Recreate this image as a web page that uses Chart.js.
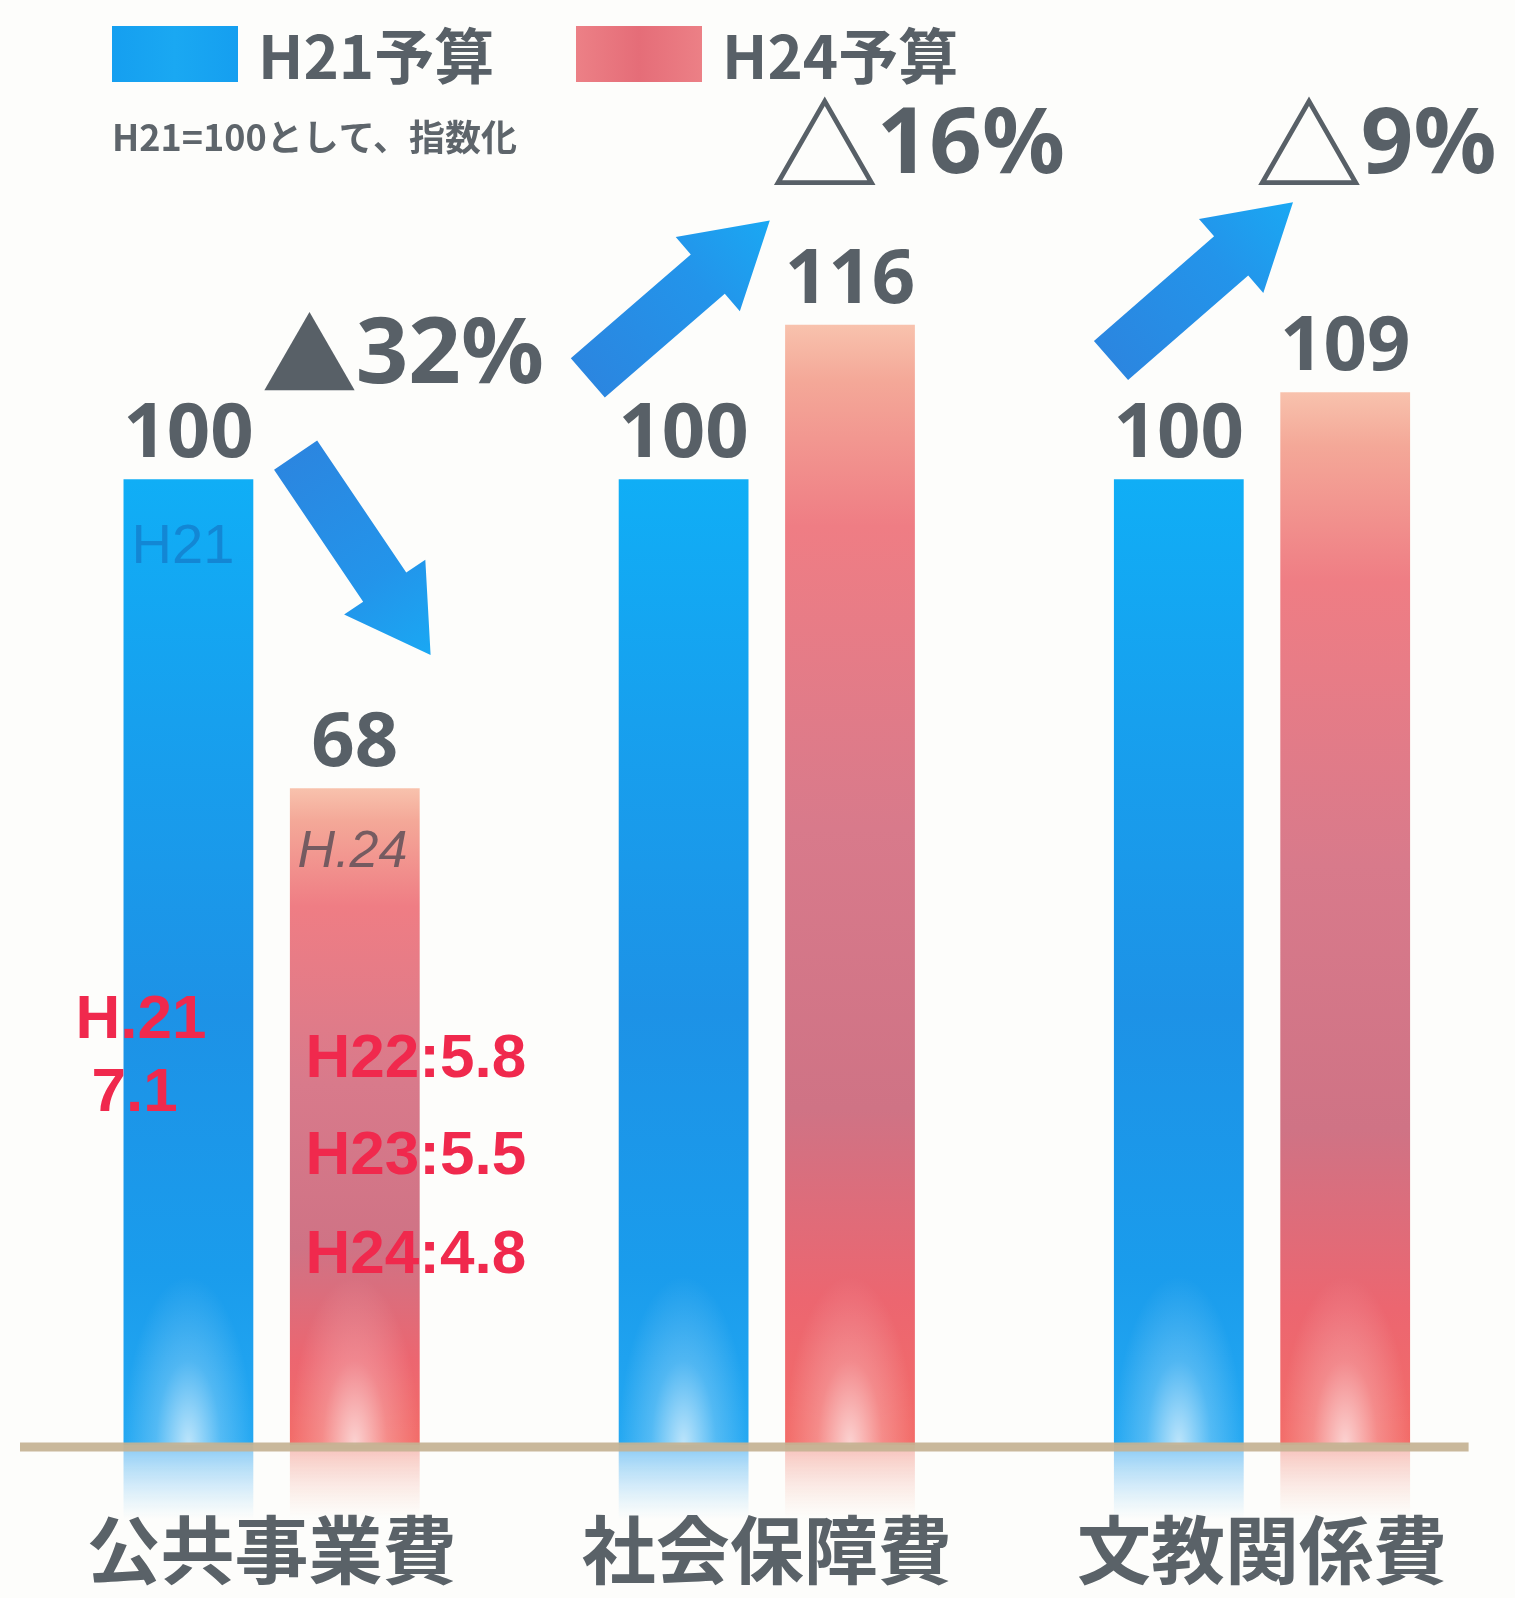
<!DOCTYPE html>
<html lang="ja">
<head>
<meta charset="utf-8">
<title>予算指数の比較</title>
<script src="https://cdn.jsdelivr.net/npm/chart.js@4.4.1/dist/chart.umd.min.js"></script>
<style>
  html, body { margin: 0; padding: 0; background: #fdfdfb; }
  #wrap { position: relative; width: 1515px; height: 1598px; }
</style>
</head>
<body>
<div id="wrap"><canvas id="c"></canvas></div>
<script>
// ---- data ----
const categories = ['公共事業費', '社会保障費', '文教関係費'];
const seriesNames = ['H21予算', 'H24予算'];
const budgetH21 = [100, 100, 100];
const budgetH24 = [68, 116, 109];
const changeMarks = ['▲', '△', '△'];
const changeTexts = ['32%', '16%', '9%'];
const indexNote = 'H21=100として、指数化';
// hand-written notes on 公共事業費 (兆円)
const noteH21 = ['H.21', '7.1'];
const noteYears = ['H22', 'H23', 'H24'];
const noteValues = [5.8, 5.5, 4.8];

// ---- styling ----
const CJK = '"Noto Sans CJK JP", "Noto Sans", sans-serif';
const NUM = '"Noto Sans", "Noto Sans CJK JP", sans-serif';
const HAND = '"Liberation Sans", "DejaVu Sans", sans-serif';
const INK = '#586067';
const PEN = '#f0294d';

function barGradient(context, series) {
  const chart = context.chart;
  const ys = chart.scales && chart.scales.y;
  const fallback = series === 0 ? '#169ff0' : '#ec7178';
  if (!ys || !chart.chartArea || context.type !== 'data') return fallback;
  const v = context.parsed ? context.parsed.y : context.raw;
  const top = ys.getPixelForValue(v);
  const base = ys.getPixelForValue(0);
  if (!isFinite(top) || !isFinite(base) || base === top) return fallback;
  const g = chart.ctx.createLinearGradient(0, top, 0, base);
  if (series === 0) {
    g.addColorStop(0, '#10aef6');
    g.addColorStop(0.25, '#17a0ee');
    g.addColorStop(0.55, '#1d92e6');
    g.addColorStop(0.82, '#1a9cec');
    g.addColorStop(1, '#24a8f2');
  } else {
    g.addColorStop(0, '#f8c2ad');
    g.addColorStop(0.05, '#f4a898');
    g.addColorStop(0.18, '#ef7d84');
    g.addColorStop(0.45, '#d87a8b');
    g.addColorStop(0.7, '#cf7385');
    g.addColorStop(0.87, '#ec6670');
    g.addColorStop(1, '#f36c68');
  }
  return g;
}

const xAt = (chart, cat, dx) => chart.scales.x.getPixelForValue(cat) + dx;
const yAt = (chart, v) => chart.scales.y.getPixelForValue(v);

function drawArrow(ctx, x1, y1, x2, y2, shaft, head, headLen) {
  const dx = x2 - x1, dy = y2 - y1, L = Math.hypot(dx, dy);
  const ux = dx / L, uy = dy / L, nx = -uy, ny = ux;
  const bx = x2 - ux * headLen, by = y2 - uy * headLen;
  ctx.beginPath();
  ctx.moveTo(x1 + nx * shaft / 2, y1 + ny * shaft / 2);
  ctx.lineTo(bx + nx * shaft / 2, by + ny * shaft / 2);
  ctx.lineTo(bx + nx * head / 2, by + ny * head / 2);
  ctx.lineTo(x2, y2);
  ctx.lineTo(bx - nx * head / 2, by - ny * head / 2);
  ctx.lineTo(bx - nx * shaft / 2, by - ny * shaft / 2);
  ctx.lineTo(x1 - nx * shaft / 2, y1 - ny * shaft / 2);
  ctx.closePath();
  const g = ctx.createLinearGradient(x1, y1, x2, y2);
  g.addColorStop(0, '#2b86e0');
  g.addColorStop(0.6, '#2394ea');
  g.addColorStop(1, '#1aa8f3');
  ctx.fillStyle = g;
  ctx.fill();
}

// Decorations: glow, reflection, floor line, labels, arrows, legend, notes
const decorations = {
  id: 'decorations',
  afterDatasetsDraw(chart) {
    const ctx = chart.ctx;
    const area = chart.chartArea;
    const base = yAt(chart, 0);

    chart.data.datasets.forEach((ds, di) => {
      chart.getDatasetMeta(di).data.forEach((bar) => {
        const w = bar.width, left = bar.x - w / 2, h = base - bar.y;
        // soft light at the foot of each bar
        ctx.save();
        ctx.beginPath();
        ctx.rect(left, bar.y, w, h);
        ctx.clip();
        ctx.translate(bar.x, base);
        ctx.scale(1, 2.6);
        const rg = ctx.createRadialGradient(0, 0, 0, 0, 0, w * 0.5);
        rg.addColorStop(0, 'rgba(255,255,255,0.7)');
        rg.addColorStop(0.5, 'rgba(255,255,255,0.22)');
        rg.addColorStop(1, 'rgba(255,255,255,0)');
        ctx.fillStyle = rg;
        ctx.fillRect(-w, -h, 2 * w, h + 10);
        ctx.restore();

        // faded reflection under the floor line
        ctx.save();
        const rh = 74;
        const lg = ctx.createLinearGradient(0, base, 0, base + rh);
        if (di === 0) {
          lg.addColorStop(0, 'rgba(40,160,240,0.55)');
          lg.addColorStop(1, 'rgba(120,200,250,0)');
        } else {
          lg.addColorStop(0, 'rgba(240,130,120,0.5)');
          lg.addColorStop(1, 'rgba(250,200,180,0)');
        }
        ctx.fillStyle = lg;
        ctx.fillRect(left, base, w, rh);
        ctx.restore();
      });
    });

    // floor line
    ctx.save();
    ctx.strokeStyle = 'rgba(196,178,146,0.92)';
    ctx.lineWidth = 9;
    ctx.beginPath();
    ctx.moveTo(area.left - 4, base + 2);
    ctx.lineTo(area.right - 41, base + 2);
    ctx.stroke();
    ctx.restore();

    // value labels above the bars
    ctx.save();
    ctx.fillStyle = INK;
    ctx.font = `bold 76px ${NUM}`;
    ctx.textAlign = 'center';
    ctx.textBaseline = 'alphabetic';
    chart.data.datasets.forEach((ds, di) => {
      chart.getDatasetMeta(di).data.forEach((bar, i) => {
        ctx.fillText(String(ds.data[i]), bar.x, bar.y - 22);
      });
    });
    ctx.restore();

    // change arrows
    const arrows = [
      { cat: 0, from: [24, 102.5], to: [159, 81.8] },
      { cat: 1, from: [-179, 110.5], to: [3, 126.8] },
      { cat: 2, from: [-151, 112.3], to: [31, 128.7] }
    ];
    ctx.save();
    arrows.forEach(a => {
      drawArrow(ctx,
        xAt(chart, a.cat, a.from[0]), yAt(chart, a.from[1]),
        xAt(chart, a.cat, a.to[0]), yAt(chart, a.to[1]),
        52, 98, 82);
    });
    ctx.restore();

    // change rates
    const rates = [
      { cat: 0, dx: -10, v: 112.9, markSize: 96 },
      { cat: 1, dx: 4, v: 134.6, markSize: 108 },
      { cat: 2, dx: -7, v: 134.6, markSize: 108 }
    ];
    ctx.save();
    ctx.fillStyle = INK;
    ctx.textBaseline = 'middle';
    ctx.textAlign = 'left';
    rates.forEach((r, i) => {
      const x = xAt(chart, r.cat, r.dx), y = yAt(chart, r.v);
      ctx.font = `bold ${r.markSize}px ${CJK}`;
      ctx.fillText(changeMarks[i], x, y);
      const mw = ctx.measureText(changeMarks[i]).width;
      ctx.font = `bold 92px ${NUM}`;
      ctx.fillText(changeTexts[i], x + mw * 0.98, y + 2);
    });
    ctx.restore();

    // legend
    ctx.save();
    const legendItems = [
      { x: 112, text: seriesNames[0], c0: '#159ff0', c1: '#1aa8f2' },
      { x: 576, text: seriesNames[1], c0: '#ec8086', c1: '#e56d78' }
    ];
    legendItems.forEach(it => {
      const g = ctx.createLinearGradient(it.x, 0, it.x + 126, 0);
      g.addColorStop(0, it.c0);
      g.addColorStop(0.5, it.c1);
      g.addColorStop(1, it.c0);
      ctx.fillStyle = g;
      ctx.fillRect(it.x, 26, 126, 56);
      ctx.fillStyle = INK;
      ctx.font = `bold 60px ${CJK}`;
      ctx.textBaseline = 'middle';
      ctx.textAlign = 'left';
      ctx.fillText(it.text, it.x + 146, 56);
    });
    ctx.font = `bold 36px ${CJK}`;
    ctx.fillStyle = '#5e656b';
    ctx.fillText(indexNote, 112, 137);
    ctx.restore();

    // hand-written notes
    ctx.save();
    ctx.textBaseline = 'middle';
    ctx.textAlign = 'left';
    ctx.font = `56px ${HAND}`;
    ctx.fillStyle = 'rgba(20,105,185,0.55)';
    ctx.fillText('H21', xAt(chart, 0, -140), yAt(chart, 92.9));
    ctx.fillStyle = 'rgba(95,80,88,0.85)';
    ctx.font = `italic 52px ${HAND}`;
    ctx.fillText('H.24', xAt(chart, 0, 26), yAt(chart, 61.3));

    ctx.fillStyle = PEN;
    ctx.font = `bold 62px ${HAND}`;
    ctx.fillText(noteH21[0], xAt(chart, 0, -196), yAt(chart, 43.9));
    ctx.fillText(noteH21[1], xAt(chart, 0, -180), yAt(chart, 36.4));
    const rows = [39.9, 29.8, 19.6];
    noteYears.forEach((yr, i) => {
      ctx.fillText(`${yr}:${noteValues[i].toFixed(1)}`, xAt(chart, 0, 34), yAt(chart, rows[i]));
    });
    ctx.restore();
  }
};

new Chart(document.getElementById('c'), {
  type: 'bar',
  data: {
    labels: categories,
    datasets: [
      { label: seriesNames[0], data: budgetH21, backgroundColor: c => barGradient(c, 0) },
      { label: seriesNames[1], data: budgetH24, backgroundColor: c => barGradient(c, 1) }
    ]
  },
  options: {
    responsive: true,
    maintainAspectRatio: false,
    animation: false,
    events: [],
    layout: { padding: { top: 93, left: 24, right: 0, bottom: 11 } },
    datasets: { bar: { barPercentage: 0.78, categoryPercentage: 0.672, borderWidth: 0 } },
    plugins: { legend: { display: false }, tooltip: { enabled: false } },
    scales: {
      x: {
        grid: { display: false, drawTicks: false },
        border: { display: false },
        afterFit: s => { s.height = 142; },
        ticks: {
          padding: 68,
          color: '#5a6268',
          font: { family: CJK, size: 74, weight: 'bold', lineHeight: 1 }
        }
      },
      y: { display: false, min: 0, max: 140 }
    }
  },
  plugins: [decorations]
});
</script>
</body>
</html>
